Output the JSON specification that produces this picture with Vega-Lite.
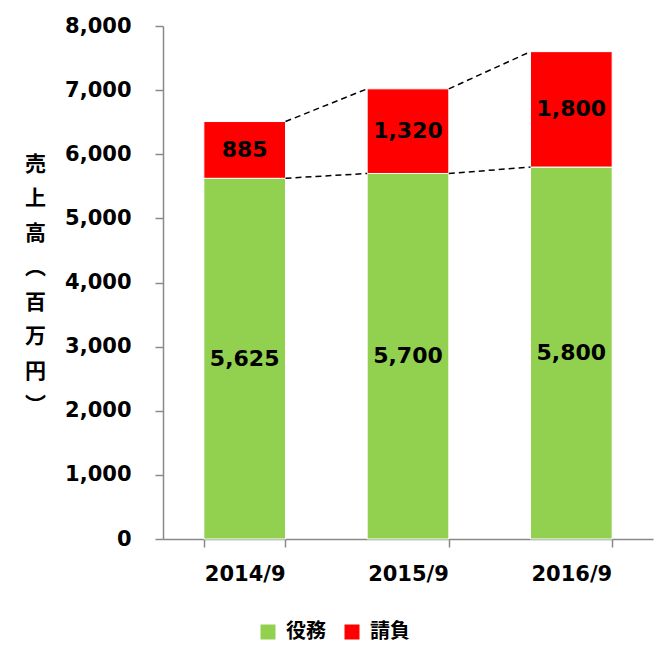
{
  "$schema": "https://vega.github.io/schema/vega-lite/v6.json",
  "width": 490,
  "height": 513,
  "autosize": {"type": "none"},
  "padding": {"left": 163, "top": 26, "right": 5, "bottom": 107},
  "background": "white",
  "config": {
    "view": {"stroke": null},
    "font": "DejaVu Sans, Noto Sans CJK JP"
  },
  "datasets": {
    "sales": [
      {"year": "2014/9", "type": "役務", "value": 5625},
      {"year": "2014/9", "type": "請負", "value": 885},
      {"year": "2015/9", "type": "役務", "value": 5700},
      {"year": "2015/9", "type": "請負", "value": 1320},
      {"year": "2016/9", "type": "役務", "value": 5800},
      {"year": "2016/9", "type": "請負", "value": 1800}
    ],
    "links": [
      {"from": "2014/9", "to": "2015/9", "start": 5625, "end": 5700},
      {"from": "2015/9", "to": "2016/9", "start": 5700, "end": 5800},
      {"from": "2014/9", "to": "2015/9", "start": 6510, "end": 7020},
      {"from": "2015/9", "to": "2016/9", "start": 7020, "end": 7600}
    ]
  },
  "layer": [
    {
      "data": {"name": "sales"},
      "mark": {"type": "bar", "stroke": "white", "strokeWidth": 1},
      "encoding": {
        "x": {
          "field": "year",
          "type": "nominal",
          "scale": {"paddingInner": 0.5, "paddingOuter": 0.25},
          "axis": {
            "title": null,
            "labelAngle": 0,
            "labelFontSize": 21,
            "labelFontWeight": "bold",
            "labelColor": "black",
            "labelPadding": 16,
            "tickBand": "extent",
            "tickSize": 8,
            "tickColor": "#898989",
            "tickWidth": 1.5,
            "domainColor": "#898989",
            "domainWidth": 1.5
          }
        },
        "y": {
          "field": "value",
          "type": "quantitative",
          "stack": "zero",
          "scale": {"domain": [0, 8000]},
          "axis": {
            "title": ["売", "上", "高", "︵", "百", "万", "円", "︶"],
            "titleAngle": 0,
            "titleX": -128,
            "titleY": 138,
            "titleAlign": "center",
            "titleBaseline": "middle",
            "titleFontSize": 21,
            "titleLineHeight": 34.5,
            "titleFontWeight": "bold",
            "titleFont": "Noto Sans CJK JP",
            "titleColor": "black",
            "values": [0, 1000, 2000, 3000, 4000, 5000, 6000, 7000, 8000],
            "format": ",d",
            "grid": false,
            "labelFontSize": 21,
            "labelFontWeight": "bold",
            "labelColor": "black",
            "labelPadding": 24,
            "tickSize": 8,
            "tickColor": "#898989",
            "tickWidth": 1.5,
            "domainColor": "#898989",
            "domainWidth": 1.5
          }
        },
        "color": {
          "field": "type",
          "type": "nominal",
          "scale": {"domain": ["役務", "請負"], "range": ["#92D050", "#FF0000"]},
          "legend": {
            "orient": "none",
            "legendX": 95,
            "legendY": 596,
            "direction": "horizontal",
            "title": null,
            "symbolType": "square",
            "symbolSize": 225,
            "symbolStrokeWidth": 0,
            "labelFontSize": 20,
            "labelFontWeight": "bold",
            "labelFont": "Noto Sans CJK JP",
            "labelColor": "black",
            "labelOffset": 8,
            "columnPadding": 16
          }
        },
        "order": {"field": "type", "sort": "ascending"}
      }
    },
    {
      "data": {"name": "links"},
      "mark": {"type": "rule", "strokeDash": [6, 4], "color": "black", "strokeWidth": 1.5},
      "encoding": {
        "x": {"field": "from", "type": "nominal", "bandPosition": 1},
        "x2": {"field": "to", "bandPosition": 0},
        "y": {"field": "start", "type": "quantitative"},
        "y2": {"field": "end"}
      }
    },
    {
      "data": {"name": "sales"},
      "mark": {"type": "text", "fontSize": 22, "fontWeight": "bold", "color": "black"},
      "encoding": {
        "x": {"field": "year", "type": "nominal"},
        "y": {"field": "value", "type": "quantitative", "stack": "zero", "bandPosition": 0.5},
        "detail": {"field": "type"},
        "order": {"field": "type", "sort": "ascending"},
        "text": {"field": "value", "type": "quantitative", "format": ","}
      }
    }
  ]
}
